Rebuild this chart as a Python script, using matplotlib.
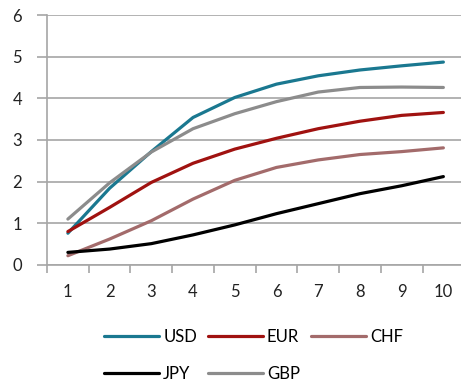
import matplotlib

matplotlib.use("Agg")
import matplotlib.pyplot as plt
from matplotlib.ticker import FixedLocator

plt.rcParams["font.family"] = ["Lato", "DejaVu Sans"]

years = [1, 2, 3, 4, 5, 6, 7, 8, 9, 10]
usd = [0.76, 1.84, 2.72, 3.54, 4.02, 4.34, 4.54, 4.68, 4.78, 4.87]
eur = [0.80, 1.38, 1.98, 2.44, 2.78, 3.04, 3.27, 3.45, 3.59, 3.66]
chf = [0.22, 0.62, 1.06, 1.58, 2.03, 2.34, 2.52, 2.65, 2.72, 2.81]
jpy = [0.30, 0.38, 0.51, 0.72, 0.96, 1.23, 1.47, 1.71, 1.90, 2.12]
gbp = [1.10, 1.97, 2.71, 3.27, 3.63, 3.92, 4.15, 4.26, 4.27, 4.26]

series = [
    ("USD", usd, "#1a7890"),
    ("EUR", eur, "#a01210"),
    ("CHF", chf, "#a36b6b"),
    ("JPY", jpy, "#000000"),
    ("GBP", gbp, "#8c8c8c"),
]

GRID = "#a6a6a6"
TXT = "#222222"

fig = plt.figure(figsize=(4.61, 3.85), dpi=100)
ax = fig.add_axes([0.102, 0.312, 0.905, 0.649])

lines = {}
for name, vals, col in series:
    (ln,) = ax.plot(years, vals, color=col, lw=2.3, label=name,
                    solid_capstyle="round", zorder=3)
    lines[name] = ln

ax.set_xlim(0.5, 10.5)
ax.set_ylim(0, 6)
ax.set_yticks(range(0, 7))
ax.set_xticks(years)
ax.xaxis.set_minor_locator(FixedLocator([x + 0.5 for x in range(0, 10)]))
ax.yaxis.grid(True, color=GRID, lw=1.2)
ax.set_axisbelow(True)

for s in ["top", "right"]:
    ax.spines[s].set_visible(False)
for s in ["left", "bottom"]:
    ax.spines[s].set_color(GRID)
    ax.spines[s].set_linewidth(1.2)

ax.tick_params(axis="y", length=7, width=1.2, color=GRID, pad=11,
               labelsize=12, labelcolor=TXT)
ax.tick_params(axis="x", which="major", length=0, pad=14,
               labelsize=12, labelcolor=TXT)
ax.tick_params(axis="x", which="minor", length=6, width=1.2, color=GRID)

# reorder so matplotlib's column-major fill gives rows USD/EUR/CHF, JPY/GBP
order = ["USD", "JPY", "EUR", "GBP", "CHF"]
ax.legend([lines[n] for n in order], order, loc="upper center",
          bbox_to_anchor=(0.495, -0.195), ncol=3, frameon=False,
          fontsize=12, handlelength=3.3, handletextpad=0.25,
          columnspacing=0.65, labelspacing=1.3)

fig.savefig("out.png", dpi=100)
